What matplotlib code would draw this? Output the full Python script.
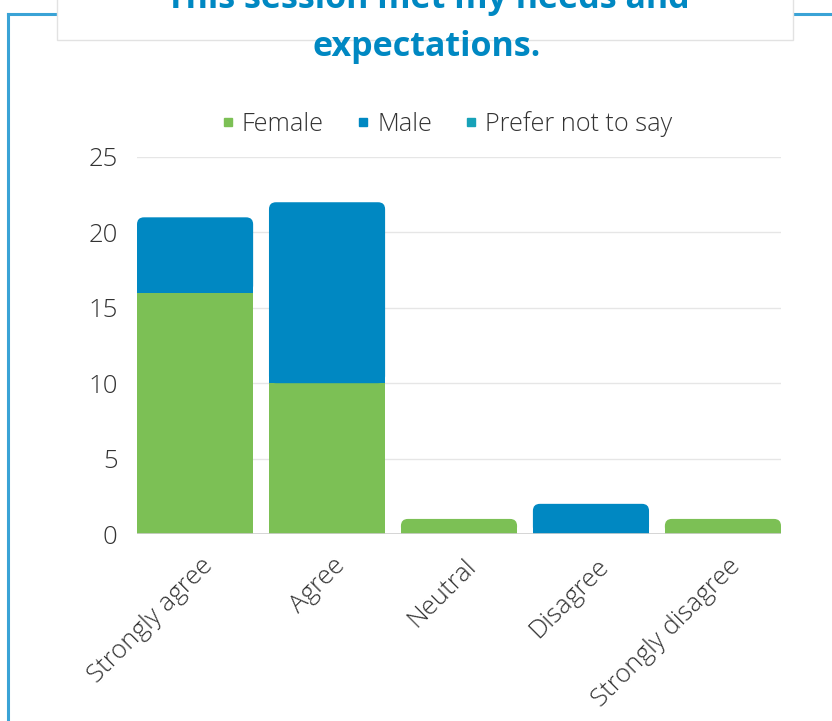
import matplotlib
matplotlib.use("Agg")
import matplotlib.pyplot as plt
import matplotlib.transforms as mtransforms
from matplotlib.patches import FancyBboxPatch, Rectangle
from matplotlib.lines import Line2D

plt.rcParams["font.family"] = ["Open Sans", "DejaVu Sans"]

categories = ["Strongly agree", "Agree", "Neutral", "Disagree", "Strongly disagree"]
female = [16, 10, 1, 0, 1]
male = [5, 12, 0, 2, 0]
prefer_not = [0, 0, 0, 0, 0]
series_names = ["Female", "Male", "Prefer not to say"]
series_colors = ["#7cc055", "#0088c2", "#17a2b8"]
yticks = [0, 5, 10, 15, 20, 25]

title_line1 = "This session met my needs and"
title_line2 = "expectations."

fig = plt.figure(figsize=(8.32, 7.21), dpi=100)
fig.patch.set_facecolor("white")

# frame line of the card behind
frame_color = "#3aa3d6"
fig.add_artist(Line2D([8 / 832, 1.0], [1 - 14 / 721, 1 - 14 / 721], color=frame_color,
                      lw=2.2, transform=fig.transFigure, zorder=1))
fig.add_artist(Line2D([8 / 832, 8 / 832], [0, 1 - 14 / 721], color=frame_color,
                      lw=2.2, transform=fig.transFigure, zorder=1))
# white title box
fig.add_artist(Rectangle((57 / 832, 1 - 40 / 721), (793 - 57) / 832, 50 / 721,
                         transform=fig.transFigure, facecolor="white",
                         edgecolor="#e2e2e2", lw=1, zorder=2))

fig.text(428 / 832, 1 - 8 / 721, title_line1, ha="center", va="baseline",
         fontsize=24.5, fontweight="bold", color="#0088c2", zorder=3)
fig.text(427 / 832, 1 - 56 / 721, title_line2, ha="center", va="baseline",
         fontsize=24.5, fontweight="bold", color="#0088c2", zorder=3)

ax = fig.add_axes([137 / 832, 1 - 534 / 721, (781 - 137) / 832, (534 - 157) / 721])
ax.set_facecolor("white")

width = 0.88
x = list(range(len(categories)))
ax.set_xlim(-width / 2, len(categories) - 1 + width / 2)
ax.set_ylim(0, 25)

# pixel scale for rounded corners
px_x = (len(categories) - 1 + width) / (781 - 137)
px_y = 25 / (534 - 157)
r_px = 7
rx = r_px * px_x
ry = r_px * px_y

stacks = [female, male, prefer_not]
bottoms = [0] * len(categories)
for s, (vals, col) in enumerate(zip(stacks, series_colors)):
    for i, v in enumerate(vals):
        if v <= 0:
            continue
        b = bottoms[i]
        is_top = all(stacks[k][i] == 0 for k in range(s + 1, len(stacks)))
        left = x[i] - width / 2
        if is_top:
            box = FancyBboxPatch((left, b), width, v,
                                 boxstyle="round,pad=0,rounding_size=%f" % rx,
                                 mutation_aspect=ry / rx, facecolor=col,
                                 edgecolor="none", zorder=3)
            ax.add_patch(box)
            ax.add_patch(Rectangle((left, b), width, max(v - ry, 0), facecolor=col,
                                   edgecolor="none", zorder=3))
        else:
            ax.add_patch(Rectangle((left, b), width, v, facecolor=col,
                                   edgecolor="none", zorder=3))
        bottoms[i] = b + v

ax.set_yticks(yticks)
ax.set_yticklabels([str(t) for t in yticks])
ax.grid(axis="y", color="#e6e6e6", lw=1, zorder=0)
ax.set_axisbelow(True)
ax.axhline(0, color="#cfcfcf", lw=1.2, zorder=4)
for sp in ax.spines.values():
    sp.set_visible(False)
ax.tick_params(axis="y", length=0, pad=14, labelsize=18.5, labelcolor="#333333")
ax.tick_params(axis="x", length=0, pad=14, labelsize=18.5, labelcolor="#333333")
ax.set_xticks(x)
ax.set_xticklabels(categories, rotation=45, ha="right", rotation_mode="anchor")
shift = mtransforms.ScaledTranslation(5 / 100, 0, fig.dpi_scale_trans)
for lab in ax.get_xticklabels():
    lab.set_transform(lab.get_transform() + shift)
for lab in ax.get_xticklabels() + ax.get_yticklabels():
    lab.set_fontweight("light")

handles = [Line2D([0], [0], marker="s", color="none", markerfacecolor=c,
                  markeredgecolor=c, markersize=6) for c in series_colors]
leg = fig.legend(handles, series_names, loc="center", ncol=3,
                 bbox_to_anchor=(447 / 832, 1 - 124 / 721), frameon=False,
                 handlelength=0.5, handletextpad=0.3, columnspacing=1.3,
                 prop={"size": 18.2, "weight": "light"}, labelcolor="#333333")

fig.savefig("out.png", dpi=100, facecolor="white")
